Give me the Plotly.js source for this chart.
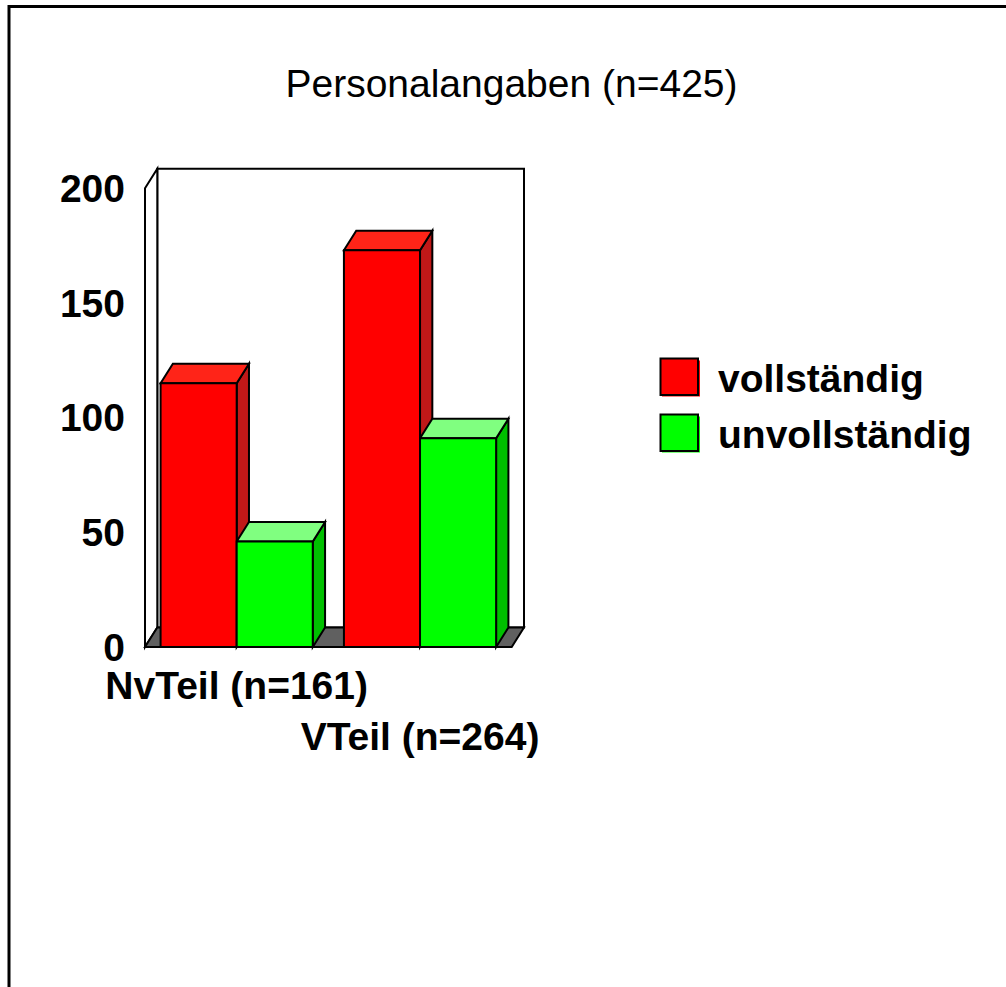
<!DOCTYPE html>
<html><head><meta charset="utf-8">
<script src="https://cdn.plot.ly/plotly-3.0.1.min.js"></script>
<style>html,body{margin:0;padding:0;background:#fff}#chart{width:1006px;height:987px}</style>
</head><body><div id="chart"></div>
<script>
// ---- data ----
const categories = ['NvTeil (n=161)', 'VTeil (n=264)'];
const seriesNames = ['vollständig', 'unvollständig'];
const vollstaendig = [115, 173];
const unvollstaendig = [46, 91];
const yTicks = [0, 50, 100, 150, 200];
const chartTitle = 'Personalangaben (n=425)';

// ---- style / geometry ----
const FONT = 'Arial, "Liberation Sans", Helvetica, sans-serif';
const frontColors = ['#FF0000', '#00FF00'];
const topColors = ['#FF2418', '#80FF80'];
const sideColors = ['#C01818', '#00C000'];
const series = [vollstaendig, unvollstaendig];

const W = 1006, H = 987;
const M = {l: 140, r: 476, t: 163, b: 336};
const plotW = W - M.l - M.r, plotH = H - M.t - M.b;
const sx = 183.35;   // px per category unit
const sy = 2.2935;   // px per value unit
const DX = 12.3, DY = 19.5; // depth offset in px
const dxU = DX / sx, dyU = DY / sy;
const xr0 = -0.5 - 5 / sx, xr1 = xr0 + plotW / sx;
const yr0 = -4 / sy, yr1 = yr0 + plotH / sy;
const yMax = yTicks[yTicks.length - 1];
const bargap = 0.17;
const barW = (1 - bargap) / series.length;
const LINE = {color: '#000', width: 2};

const shapes = [];
// back wall
shapes.push({type: 'rect', xref: 'x', yref: 'y', layer: 'below', x0: -0.5 + dxU, x1: 1.5 + dxU, y0: dyU, y1: yMax + dyU, fillcolor: '#fff', line: LINE});
// left wall
shapes.push({type: 'path', xref: 'x', yref: 'y', layer: 'below',
  path: `M ${-0.5},0 L ${-0.5},${yMax} L ${-0.5 + dxU},${yMax + dyU} L ${-0.5 + dxU},${dyU} Z`, fillcolor: '#fff', line: LINE});
// floor
shapes.push({type: 'path', xref: 'x', yref: 'y', layer: 'below',
  path: `M ${-0.5},0 L 1.5,0 L ${1.5 + dxU},${dyU} L ${-0.5 + dxU},${dyU} Z`, fillcolor: '#606060', line: LINE});
// bar side and top faces
categories.forEach((c, i) => {
  series.forEach((vals, s) => {
    const v = vals[i];
    const xl = i - (1 - bargap) / 2 + s * barW;
    const xr = xl + barW;
    shapes.push({type: 'path', xref: 'x', yref: 'y', layer: 'below',
      path: `M ${xr},0 L ${xr},${v} L ${xr + dxU},${v + dyU} L ${xr + dxU},${dyU} Z`, fillcolor: sideColors[s], line: LINE});
    shapes.push({type: 'path', xref: 'x', yref: 'y', layer: 'below',
      path: `M ${xl},${v} L ${xr},${v} L ${xr + dxU},${v + dyU} L ${xl + dxU},${v + dyU} Z`, fillcolor: topColors[s], line: LINE});
  });
});

// pixel -> paper helpers
const px = x => (x - M.l) / plotW;
const py = y => (H - M.b - y) / plotH;

// outer frame (top + left)
shapes.push({type: 'line', xref: 'paper', yref: 'paper', x0: px(8), x1: px(1010), y0: py(6.5), y1: py(6.5), line: {color: '#000', width: 3}});
shapes.push({type: 'line', xref: 'paper', yref: 'paper', x0: px(9), x1: px(9), y0: py(5), y1: py(995), line: {color: '#000', width: 3}});

// legend swatches
const legendTop = [358.5, 414.5];
const annotations = [];
seriesNames.forEach((n, s) => {
  const y0 = legendTop[s];
  shapes.push({type: 'rect', xref: 'paper', yref: 'paper', x0: px(662), x1: px(700), y0: py(y0 + 2), y1: py(y0 + 38), fillcolor: frontColors[s], line: {width: 0}});
  shapes.push({type: 'rect', xref: 'paper', yref: 'paper', x0: px(660.5), x1: px(698), y0: py(y0), y1: py(y0 + 36.5), fillcolor: frontColors[s], line: LINE});
  annotations.push({xref: 'paper', yref: 'paper', x: px(716), y: py(y0 + 20), xanchor: 'left', yanchor: 'middle', showarrow: false,
    text: n, font: {family: FONT, size: 39, color: '#000', weight: 700}});
});

const traces = series.map((vals, s) => ({
  type: 'bar', x: categories.map((c, i) => i), y: vals, name: seriesNames[s],
  marker: {color: frontColors[s], line: LINE}, showlegend: false, hoverinfo: 'skip'
}));

const layout = {
  width: W, height: H, margin: M,
  paper_bgcolor: '#fff', plot_bgcolor: 'rgba(0,0,0,0)',
  showlegend: false, barmode: 'group', bargap: bargap, bargroupgap: 0,
  title: {text: chartTitle, font: {family: FONT, size: 39, color: '#000'},
    xref: 'container', yref: 'container', x: 511.5 / W, xanchor: 'center', y: 1 - 83 / H, yanchor: 'middle'},
  xaxis: {range: [xr0, xr1], tickmode: 'array', tickvals: categories.map((c, i) => i),
    ticktext: categories.map((c, i) => i === 0 ? c : '<br>' + c), tickangle: 0,
    showgrid: false, zeroline: false, showline: false, ticks: '', ticklabelstandoff: 8,
    tickfont: {family: FONT, size: 39, color: '#000', weight: 700}, fixedrange: true},
  yaxis: {range: [yr0, yr1], tickmode: 'array', tickvals: yTicks, ticktext: yTicks.map(String),
    showgrid: false, zeroline: false, showline: false, ticks: '', ticklabelstandoff: 14,
    tickfont: {family: FONT, size: 39, color: '#000', weight: 700}, fixedrange: true},
  shapes: shapes, annotations: annotations
};

Plotly.newPlot('chart', traces, layout, {staticPlot: true, displayModeBar: false});
</script>
</body></html>
